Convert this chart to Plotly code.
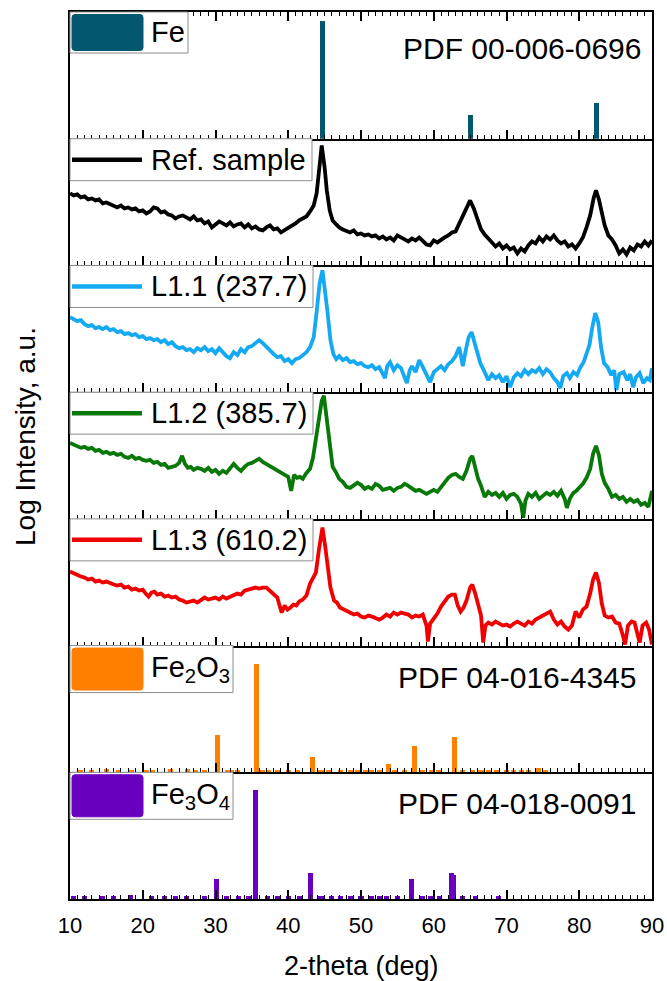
import plotly.graph_objects as go

# ---------------- data ----------------
two_theta_ticks = [10, 20, 30, 40, 50, 60, 70, 80, 90]

fe_pos = [44.67, 65.02, 82.33]
fe_int = [118, 24, 36]

ref_x = [10.0, 10.5, 11.0, 11.5, 12.0, 12.5, 13.0, 13.5, 14.0, 14.5, 15.0, 15.5, 16.0, 16.5, 17.0, 17.5, 18.0, 18.5, 19.0, 19.5,
         20.0, 20.5, 21.0, 21.5, 22.0, 22.5, 23.0, 23.5, 24.0, 24.5, 25.0, 25.5, 26.0, 26.5, 27.0, 27.5, 28.0, 28.5, 29.0, 29.5,
         30.0, 30.5, 31.0, 31.5, 32.0, 32.5, 33.0, 33.5, 34.0, 34.5, 35.0, 35.5, 36.0, 36.5, 37.0, 37.5, 38.0, 38.5, 39.0, 39.5,
         40.0, 40.5, 41.0, 41.5, 42.0, 42.5, 43.0, 43.5, 43.9, 44.2, 44.6, 45.0, 45.3, 45.7, 46.1, 46.6, 47.0, 47.5, 48.0, 48.5,
         49.0, 49.5, 50.0, 50.5, 51.0, 51.5, 52.0, 52.5, 53.0, 53.5, 54.0, 54.5, 55.0, 55.5, 56.0, 56.5, 57.0, 57.5, 58.0, 58.5,
         59.0, 59.5, 60.0, 60.5, 61.0, 61.5, 62.0, 62.5, 63.0, 63.5, 64.0, 64.5, 65.0, 65.5, 66.0, 66.5, 67.0, 67.5, 68.0, 68.5,
         69.0, 69.5, 70.0, 70.5, 71.0, 71.5, 72.0, 72.5, 73.0, 73.5, 74.0, 74.5, 75.0, 75.5, 76.0, 76.5, 77.0, 77.5, 78.0, 78.5,
         79.0, 79.5, 80.0, 80.5, 81.0, 81.5, 82.0, 82.3, 82.7, 83.1, 83.5, 84.0, 84.5, 85.0, 85.5, 86.0, 86.5, 87.0, 87.5, 88.0,
         88.5, 89.0, 89.5, 90.0]
ref_y = [72, 70, 71, 68, 69, 66, 67, 65, 66, 62, 63, 61, 60, 58, 60, 57, 58, 56, 57, 54,
         55, 52, 54, 58, 57, 53, 54, 51, 50, 47, 49, 50, 48, 46, 49, 45, 46, 42, 44, 38,
         41, 44, 42, 40, 43, 39, 41, 42, 38, 41, 37, 39, 36, 35, 38, 40, 36, 37, 33, 35,
         38, 40, 42, 45, 47, 49, 54, 60, 72, 95, 120, 98, 75, 55, 45, 41, 38, 36, 34, 33,
         35, 31, 32, 30, 31, 29, 30, 27, 29, 26, 28, 25, 30, 28, 26, 24, 27, 25, 28, 24,
         21, 20, 25, 23, 26, 28, 30, 33, 34, 42, 48, 58, 65, 57, 45, 36, 31, 27, 24, 19,
         22, 17, 20, 16, 18, 12, 17, 14, 20, 24, 22, 28, 24, 29, 26, 30, 25, 22, 24, 19,
         21, 17, 22, 28, 38, 50, 68, 75, 66, 52, 40, 30, 26, 20, 12, 16, 11, 18, 15, 21,
         19, 24, 20, 25]

l11_x = [10.0, 10.5, 11.0, 11.5, 12.0, 12.5, 13.0, 13.5, 14.0, 14.5, 15.0, 15.5, 16.0, 16.5, 17.0, 17.5, 18.0, 18.5, 19.0, 19.5,
         20.0, 20.5, 21.0, 21.5, 22.0, 22.5, 23.0, 23.5, 24.0, 24.5, 25.0, 25.5, 26.0, 26.5, 27.0, 27.5, 28.0, 28.5, 29.0, 29.5,
         30.0, 30.5, 31.0, 31.5, 32.0, 32.5, 33.0, 33.5, 34.0, 34.5, 35.0, 35.5, 36.0, 36.5, 37.0, 37.5, 38.0, 38.5, 39.0, 39.5,
         40.0, 40.5, 41.0, 41.5, 42.0, 42.5, 43.0, 43.5, 43.9, 44.3, 44.7, 45.1, 45.4, 45.8, 46.2, 46.6, 47.0, 47.5, 48.0, 48.5,
         49.0, 49.5, 50.0, 50.5, 51.0, 51.5, 52.0, 52.5, 53.0, 53.3, 53.6, 54.0, 54.5, 55.0, 55.5, 56.0, 56.3, 56.7, 57.0, 57.5,
         58.0, 58.5, 59.0, 59.5, 60.0, 60.5, 61.0, 61.5, 62.0, 62.5, 63.0, 63.5, 64.0, 64.4, 64.8, 65.2, 65.6, 66.0, 66.4, 67.0,
         67.5, 68.0, 68.5, 69.0, 69.5, 70.0, 70.5, 71.0, 71.5, 72.0, 72.5, 73.0, 73.5, 74.0, 74.5, 75.0, 75.5, 76.0, 76.5, 77.0,
         77.4, 77.8, 78.3, 78.7, 79.2, 79.7, 80.1, 80.6, 81.0, 81.4, 81.8, 82.2, 82.6, 83.0, 83.4, 83.9, 84.4, 84.8, 85.1, 85.5,
         86.1, 86.6, 87.0, 87.4, 87.8, 88.3, 88.8, 89.3, 89.7, 90.0]
l11_y = [75, 73, 71, 72, 68, 66, 67, 64, 65, 63, 65, 62, 63, 60, 61, 58, 59, 57, 58, 55,
         56, 53, 54, 52, 53, 50, 52, 48, 50, 46, 44, 45, 42, 43, 40, 44, 42, 45, 41, 43,
         39, 44, 40, 36, 34, 40, 37, 43, 40, 45, 46, 49, 52, 49, 45, 42, 38, 35, 36, 31,
         33, 29, 33, 34, 37, 40, 45, 55, 80, 108, 122, 100, 80, 52, 38, 33, 36, 32, 34, 30,
         31, 28, 29, 26, 25, 27, 23, 25, 17, 14, 26, 30, 22, 27, 24, 13, 9, 22, 26, 20,
         32, 25, 18, 10, 20, 23, 26, 22, 28, 31, 36, 45, 26, 42, 55, 60, 50, 38, 29, 20,
         12, 18, 14, 17, 10, 16, 5, 15, 19, 16, 22, 18, 22, 20, 24, 18, 23, 20, 14, 10,
         4, 16, 19, 14, 20, 17, 24, 30, 38, 47, 65, 79, 70, 45, 29, 25, 17, 22, 2, 18,
         20, 12, 18, 5, 15, 19, 9, 14, 12, 24]

l12_x = [10.0, 10.5, 11.0, 11.5, 12.0, 12.5, 13.0, 13.5, 14.0, 14.5, 15.0, 15.5, 16.0, 16.5, 17.0, 17.5, 18.0, 18.5, 19.0, 19.5,
         20.0, 20.5, 21.0, 21.5, 22.0, 22.5, 23.0, 23.5, 24.0, 24.5, 25.0, 25.4, 25.8, 26.2, 26.6, 27.0, 27.5, 28.0, 28.5, 29.0,
         29.5, 30.0, 30.5, 31.0, 31.5, 32.0, 32.5, 33.0, 33.5, 34.0, 34.5, 35.0, 35.5, 36.0, 36.5, 37.0, 37.5, 38.0, 38.5, 39.0,
         39.5, 40.0, 40.4, 40.8, 41.2, 41.6, 42.0, 42.5, 43.0, 43.4, 43.8, 44.2, 44.6, 44.9, 45.3, 45.7, 46.1, 46.6, 47.0, 47.5,
         48.0, 48.5, 49.0, 49.5, 50.0, 50.5, 51.0, 51.5, 52.0, 52.5, 53.0, 53.5, 54.0, 54.5, 55.0, 55.5, 56.0, 56.5, 57.0, 57.5,
         58.0, 58.5, 59.0, 59.5, 60.0, 60.5, 61.0, 61.5, 62.0, 62.5, 63.0, 63.5, 64.0, 64.5, 65.0, 65.3, 65.7, 66.1, 66.5, 67.0,
         67.5, 68.0, 68.5, 69.0, 69.5, 70.0, 70.5, 71.0, 71.5, 72.0, 72.3, 72.6, 73.0, 73.5, 74.0, 74.5, 75.0, 75.5, 76.0, 76.5,
         77.0, 77.5, 78.0, 78.3, 78.7, 79.2, 79.6, 80.1, 80.5, 81.0, 81.5, 81.9, 82.3, 82.7, 83.1, 83.5, 84.0, 84.5, 85.0, 85.5,
         86.0, 86.5, 87.0, 87.5, 88.0, 88.5, 89.0, 89.5, 90.0]
l12_y = [76, 74, 73, 71, 72, 70, 71, 68, 69, 66, 67, 65, 66, 64, 65, 62, 61, 63, 60, 61,
         59, 58, 59, 56, 57, 54, 55, 51, 52, 53, 56, 63, 55, 51, 52, 49, 51, 50, 48, 51,
         47, 49, 45, 48, 46, 50, 55, 51, 48, 52, 55, 56, 58, 60, 57, 55, 52, 50, 48, 46,
         44, 42, 28, 44, 41, 42, 40, 46, 50, 61, 80, 100, 118, 123, 100, 72, 52, 46, 40, 37,
         32, 31, 34, 36, 34, 30, 32, 30, 35, 33, 29, 30, 31, 28, 31, 32, 35, 33, 30, 28,
         29, 27, 25, 27, 29, 27, 32, 37, 41, 44, 45, 42, 40, 48, 60, 63, 52, 40, 33, 22,
         27, 24, 26, 22, 26, 20, 24, 25, 22, 15, 1, 18, 25, 22, 26, 20, 23, 26, 24, 27,
         23, 28, 20, 11, 20, 26, 28, 32, 35, 41, 50, 65, 73, 64, 45, 36, 30, 22, 24, 20,
         22, 17, 20, 17, 19, 14, 16, 12, 28]

l13_x = [10.0, 10.5, 11.0, 11.5, 12.0, 12.5, 13.0, 13.5, 14.0, 14.5, 15.0, 15.5, 16.0, 16.5, 17.0, 17.5, 18.0, 18.5, 19.0, 19.5,
         20.0, 20.4, 20.8, 21.2, 21.6, 22.0, 22.5, 23.0, 23.5, 24.0, 24.5, 25.0, 25.5, 26.0, 26.5, 27.0, 27.5, 28.0, 28.5, 29.0,
         29.5, 30.0, 30.5, 31.0, 31.5, 32.0, 32.5, 33.0, 33.5, 34.0, 34.5, 35.0, 35.5, 36.0, 36.5, 37.0, 37.5, 38.0, 38.5, 38.8,
         39.1, 39.5, 39.9, 40.3, 40.7, 41.1, 41.5, 42.0, 42.5, 43.0, 43.5, 43.8, 44.2, 44.7, 45.1, 45.4, 45.8, 46.3, 46.7, 47.1,
         47.6, 48.0, 48.5, 49.0, 49.5, 50.0, 50.5, 51.0, 51.5, 52.0, 52.5, 53.0, 53.5, 54.0, 54.5, 55.0, 55.5, 56.0, 56.5, 57.0,
         57.5, 58.0, 58.5, 59.0, 59.2, 59.5, 60.0, 60.5, 61.0, 61.5, 62.0, 62.5, 62.9, 63.3, 63.7, 64.1, 64.5, 65.0, 65.3, 65.7,
         66.1, 66.5, 66.8, 67.1, 67.5, 68.0, 68.5, 69.0, 69.5, 70.0, 70.5, 71.0, 71.5, 72.0, 72.5, 73.0, 73.5, 74.0, 74.5, 75.0,
         75.5, 76.0, 76.5, 77.0, 77.5, 78.0, 78.5, 79.0, 79.5, 80.0, 80.5, 81.0, 81.5, 81.9, 82.3, 82.7, 83.1, 83.5, 84.0, 84.5,
         85.0, 85.5, 86.0, 86.3, 86.7, 87.2, 87.6, 88.0, 88.3, 88.7, 89.2, 89.6, 90.0]
l13_y = [74, 72, 71, 69, 68, 66, 67, 64, 65, 63, 64, 62, 61, 60, 61, 58, 59, 56, 57, 55,
         56, 52, 49, 53, 54, 51, 52, 49, 50, 48, 49, 46, 45, 43, 44, 45, 43, 46, 48, 46,
         47, 48, 46, 49, 47, 49, 50, 52, 51, 55, 56, 57, 58, 57, 58, 58, 55, 51, 48, 40,
         33, 40, 36, 38, 41, 40, 44, 46, 50, 62, 68, 73, 95, 118, 98, 78, 58, 45, 43, 38,
         36, 34, 33, 31, 32, 29, 28, 30, 29, 27, 26, 28, 31, 29, 33, 31, 33, 32, 31, 28,
         30, 29, 31, 20, 4, 22, 27, 32, 39, 44, 49, 51, 51, 40, 34, 38, 45, 58, 61, 52,
         42, 30, 3, 20, 23, 21, 24, 22, 20, 21, 19, 22, 24, 22, 20, 24, 22, 26, 28, 30,
         31, 34, 26, 21, 24, 19, 16, 20, 34, 28, 36, 39, 52, 66, 73, 63, 42, 30, 28, 29,
         23, 22, 10, 1, 20, 24, 23, 10, 3, 20, 23, 16, 1]

fe2o3_pos = [11.5, 13.0, 15.0, 16.7, 18.4, 20.5, 21.3, 23.8, 26.1, 27.3, 28.5, 30.25, 31.7, 32.2, 33.0, 35.66, 36.5, 37.3,
             38.5, 40.0, 41.3, 43.35, 44.5, 45.5, 47.2, 48.5, 49.5, 50.6, 51.5, 52.5, 53.75, 54.6, 56.0, 57.3, 58.5, 59.7,
             60.7, 62.9, 64.0, 65.3, 66.5, 67.5, 68.6, 70.0, 71.0, 72.0, 73.0, 74.4, 75.3]
fe2o3_int = [2.5, 2.5, 4, 2.5, 3, 2.5, 2.5, 4, 4, 2.5, 2.5, 38, 2.5, 3, 2.5, 109, 3, 3,
             2.5, 2.5, 3, 16, 2.5, 2.5, 3, 2.5, 2.5, 2.5, 2.5, 3, 9, 2.5, 2.5, 27, 3, 2.5,
             2.5, 36, 3, 2.5, 2.5, 2.5, 2.5, 2.5, 2.5, 2.5, 3, 5, 3]

fe3o4_pos = [10.5, 12.0, 14.5, 16.0, 18.3, 21.2, 23.0, 24.5, 26.0, 28.5, 30.1, 31.5, 33.2, 34.5, 35.45, 37.1, 38.5, 40.0,
             41.5, 43.1, 44.5, 46.0, 47.2, 48.5, 50.0, 51.5, 52.6, 53.5, 55.0, 57.0, 58.5, 59.5, 60.8, 62.45, 62.75, 64.0,
             65.8, 68.9]
fe3o4_int = [2.5, 2.5, 3, 2.5, 4, 3, 2.5, 3, 3, 2.5, 20, 3, 2.5, 2.5, 109, 3, 3, 2.5,
             2.5, 26, 2.5, 2.5, 3, 2.5, 2.5, 2.5, 3, 3, 2.5, 20, 3, 2.5, 3, 26, 24, 3,
             3, 3]

panel_names = ["Fe", "Ref. sample", "L1.1 (237.7)", "L1.2 (385.7)", "L1.3 (610.2)",
               "Fe<sub>2</sub>O<sub>3</sub>", "Fe<sub>3</sub>O<sub>4</sub>"]
pdf_cards = {0: "PDF 00-006-0696", 5: "PDF 04-016-4345", 6: "PDF 04-018-0091"}
colors = ["#03586F", "#000000", "#14A9F2", "#087808", "#F00000", "#FF7F00", "#6A00BF"]

# ---------------- layout geometry ----------------
W, H = 667, 981
PL, PT, PR_EDGE, PB_EDGE = 70, 12, 652, 899   # plot area in page pixels
L, T = PL, PT
PW = PR_EDGE - PL
PH = PB_EDGE - PT
R = W - L - PW
B = H - T - PH
NP = 7
ph = PH / NP
FONT = "Liberation Sans, Arial, sans-serif"

def page_to_paper(px, py):
    return (px - PL) / PW, (PB_EDGE - py) / PH

fig = go.Figure()

def ax(i):
    return ("x" if i == 0 else f"x{i+1}"), ("y" if i == 0 else f"y{i+1}")

sticks = {0: (fe_pos, fe_int), 5: (fe2o3_pos, fe2o3_int), 6: (fe3o4_pos, fe3o4_int)}
curves = {1: (ref_x, ref_y), 2: (l11_x, l11_y), 3: (l12_x, l12_y), 4: (l13_x, l13_y)}

for i in range(NP):
    xa, ya = ax(i)
    if i in sticks:
        px, py = sticks[i]
        fig.add_trace(go.Bar(x=px, y=py, width=0.7, marker=dict(color=colors[i], line=dict(width=0)),
                             xaxis=xa, yaxis=ya, showlegend=False, name=panel_names[i]))
    else:
        cx, cy = curves[i]
        fig.add_trace(go.Scatter(x=cx, y=cy, mode="lines", line=dict(color=colors[i], width=3.8),
                                 xaxis=xa, yaxis=ya, showlegend=False, name=panel_names[i]))

layout = dict(width=W, height=H, margin=dict(l=L, r=R, t=T, b=B, autoexpand=False), plot_bgcolor="white",
              paper_bgcolor="white", font=dict(family=FONT, color="black"), bargap=0)

for i in range(NP):
    top = 1 - i / NP
    bot = 1 - (i + 1) / NP
    xkey = "xaxis" if i == 0 else f"xaxis{i+1}"
    ykey = "yaxis" if i == 0 else f"yaxis{i+1}"
    last = (i == NP - 1)
    layout[xkey] = dict(range=[10, 90], anchor=ax(i)[1], domain=[0, 1],
                        showline=True, linewidth=2, linecolor="black",
                        mirror=("ticks" if i == 0 else False),
                        ticks="inside", ticklen=9, tickwidth=1.5, tickcolor="black",
                        tickvals=two_theta_ticks,
                        minor=dict(ticks="inside", dtick=1, ticklen=4, tickwidth=1.2, tickcolor="black"),
                        showticklabels=last, tickfont=dict(size=22, family=FONT),
                        ticklabelstandoff=6, automargin=False,
                        showgrid=False, zeroline=False)
    if i > 0:
        layout[xkey]["matches"] = "x"
    layout[ykey] = dict(domain=[bot, top], range=[0, ph], anchor=ax(i)[0],
                        showline=True, linewidth=2, linecolor="black", mirror=True,
                        ticks="", showticklabels=False, showgrid=False, zeroline=False)

fig.update_layout(**layout)

shapes = []
annotations = []

def dom(i, dx, dy):
    """pixel offset (from panel top-left) -> axis domain coordinates"""
    return dx / PW, 1 - dy / ph

def rounded_rect_path(x0, y0, x1, y1, rx, ry):
    return (f"M {x0+rx},{y0} L {x1-rx},{y0} Q {x1},{y0} {x1},{y0+ry} "
            f"L {x1},{y1-ry} Q {x1},{y1} {x1-rx},{y1} L {x0+rx},{y1} "
            f"Q {x0},{y1} {x0},{y1-ry} L {x0},{y0+ry} Q {x0},{y0} {x0+rx},{y0} Z")

legend_box_w = {0: 118, 1: 242, 2: 243, 3: 243, 4: 243, 5: 163, 6: 163}
legend_box_h = {0: 41, 1: 42, 2: 42, 3: 42, 4: 42, 5: 47, 6: 47}

for i in range(NP):
    xa, ya = ax(i)
    xr, yr = xa + " domain", ya + " domain"
    bw, bh = legend_box_w[i], legend_box_h[i]
    x0, y1 = dom(i, 0, 0)
    x1, y0 = dom(i, bw, bh)
    shapes.append(dict(type="rect", xref=xr, yref=yr, x0=x0, x1=x1, y0=y0, y1=y1,
                       line=dict(color="#8c8c8c", width=1), fillcolor="white", layer="above"))
    if i in sticks:
        sx0, sy1 = dom(i, 2, 2.5)
        sx1, sy0 = dom(i, 73, bh - 2.5)
        shapes.append(dict(type="path", xref=xr, yref=yr,
                           path=rounded_rect_path(sx0, sy0, sx1, sy1, 3 / PW, 3 / ph),
                           line=dict(color=colors[i], width=1), fillcolor=colors[i], layer="above"))
    else:
        lx0, ly = dom(i, 2, bh / 2)
        lx1, _ = dom(i, 72, bh / 2)
        shapes.append(dict(type="line", xref=xr, yref=yr, x0=lx0, x1=lx1, y0=ly, y1=ly,
                           line=dict(color=colors[i], width=4.5), layer="above"))
    tx, ty = dom(i, 79, bh / 2)
    annotations.append(dict(xref=xr, yref=yr, x=tx, y=ty, xanchor="left", yanchor="middle",
                            text=panel_names[i], showarrow=False, font=dict(size=29, family=FONT, color="black")))

pdf_offsets = {0: (9, 37), 5: (14, 32), 6: (14, 31)}
for i, card in pdf_cards.items():
    xa, ya = ax(i)
    dxr, dyt = pdf_offsets[i]
    tx, ty = dom(i, PW - dxr, dyt)
    annotations.append(dict(xref=xa + " domain", yref=ya + " domain", x=tx, y=ty,
                            xanchor="right", yanchor="middle", text=card, showarrow=False,
                            font=dict(size=30, family=FONT, color="black")))

# axis titles
xt_x, xt_y = page_to_paper(361, 966)
annotations.append(dict(xref="paper", yref="paper", x=xt_x, y=xt_y,
                        xanchor="center", yanchor="middle", text="2-theta (deg)", showarrow=False,
                        font=dict(size=27, family=FONT, color="black")))
yt_x, yt_y = page_to_paper(25, 437)
annotations.append(dict(xref="paper", yref="paper", x=yt_x, y=yt_y,
                        xanchor="center", yanchor="middle", text="Log Intensity, a.u.", textangle=-90,
                        showarrow=False, font=dict(size=28, family=FONT, color="black")))

fig.update_layout(shapes=shapes, annotations=annotations)
fig.write_html("out.html", config={"displayModeBar": False},
               post_script="document.body.style.margin='0';document.body.style.overflow='hidden';")
